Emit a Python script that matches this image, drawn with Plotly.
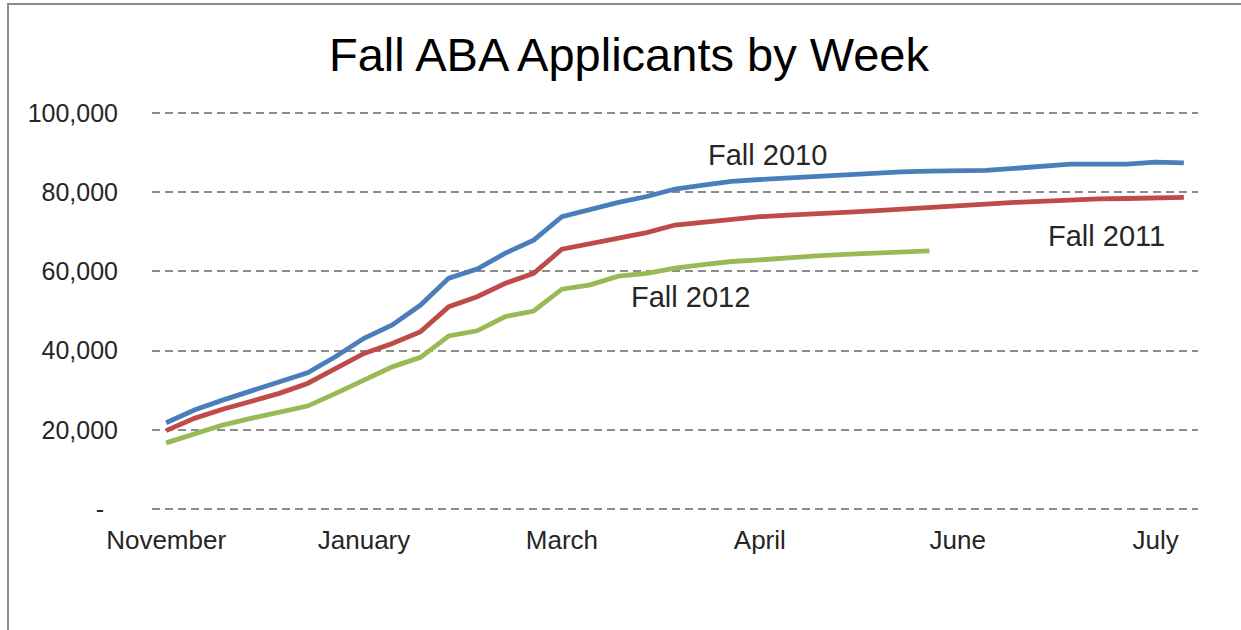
import plotly.graph_objects as go

weeks = list(range(37))
tick_positions = [0, 7, 14, 21, 28, 35]
tick_labels = ["November", "January", "March", "April", "June", "July"]

fall_2010 = [21800, 25000, 27500, 29900, 32000, 34400, 38500, 43100, 46500, 51500,
             58300, 60600, 64600, 67900, 73800, 75700, 77400, 78900, 80800, 81800,
             82700, 83200, 83600, 84000, 84400, 84800, 85100, 85300, 85300, 85500,
             86000, 86600, 87100, 87100, 87100, 87600, 87400]
fall_2011 = [19800, 22900, 25200, 27100, 29200, 31700, 35500, 39300, 41800, 44800,
             51100, 53600, 57000, 59500, 65600, 67100, 68600, 69800, 71700, 72400,
             73200, 73800, 74200, 74700, 74900, 75300, 75800, 76300, 76500, 77000,
             77400, 77800, 78200, 78300, 78400, 78700, 78700]
fall_2012 = [16700, 19100, 21200, 22900, 24300, 26000, 29200, 32600, 35900, 38300,
             43700, 45000, 48600, 50000, 55500, 56600, 58800, 59500, 60800, 61700,
             62500, 62900, 63500, 63900, 64300, 64600, 65000, 65200]

y_ticks = [0, 20000, 40000, 60000, 80000, 100000]
y_tick_text = ["-&nbsp;&nbsp;", "20,000", "40,000", "60,000", "80,000", "100,000"]

series = [
    ("Fall 2010", fall_2010, "#4A7EBB"),
    ("Fall 2011", fall_2011, "#BE4B48"),
    ("Fall 2012", fall_2012, "#98B954"),
]
label_pos = {
    "Fall 2010": (21.27, 89400),
    "Fall 2011": (33.25, 68900),
    "Fall 2012": (18.55, 53500),
}

font_fam = "Liberation Sans, Arial"

fig = go.Figure()
for name, vals, color in series:
    fig.add_trace(go.Scatter(x=weeks[:len(vals)], y=vals, mode="lines", name=name,
                             line=dict(color=color, width=4.8)))
    lx, ly = label_pos[name]
    fig.add_annotation(x=lx, y=ly, text=name, showarrow=False,
                       font=dict(family=font_fam, size=29, color="#262626"))

# plot area: x 152..1198, y 107..515 (page pixels); 0 at y=509, 100k at y=113
fig.update_layout(
    width=1241, height=630,
    margin=dict(l=152, r=43, t=107, b=115),
    paper_bgcolor="white", plot_bgcolor="white",
    showlegend=False,
    title=dict(text="Fall ABA Applicants by Week", x=629/1241, xref="container",
               y=1 - 55/630, yref="container", xanchor="center", yanchor="middle",
               font=dict(family=font_fam, size=47, color="#000000")),
    xaxis=dict(range=[-0.5, 36.5], tickvals=tick_positions, ticktext=tick_labels,
               showgrid=False, zeroline=False, showline=False, ticks="",
               ticklabelstandoff=7,
               tickfont=dict(family=font_fam, size=26, color="#262626")),
    yaxis=dict(range=[-1500, 101500], tickvals=y_ticks, ticktext=y_tick_text,
               showgrid=True, gridcolor="#8C8C8C", gridwidth=1.5, griddash="8px,5px",
               zeroline=False, showline=False, ticks="", ticklabelstandoff=33,
               tickfont=dict(family=font_fam, size=25, color="#262626")),
    shapes=[dict(type="rect", xref="paper", yref="paper",
                 x0=(8-152)/1046, x1=(1250-152)/1046,
                 y0=(515-640)/408, y1=(515-4)/408,
                 line=dict(color="#8C8C8C", width=2), fillcolor="rgba(0,0,0,0)",
                 layer="below")],
)

fig.write_html("out.html", config={"displayModeBar": False},
               post_script="document.body.style.margin='0px';document.body.style.overflow='hidden';")
